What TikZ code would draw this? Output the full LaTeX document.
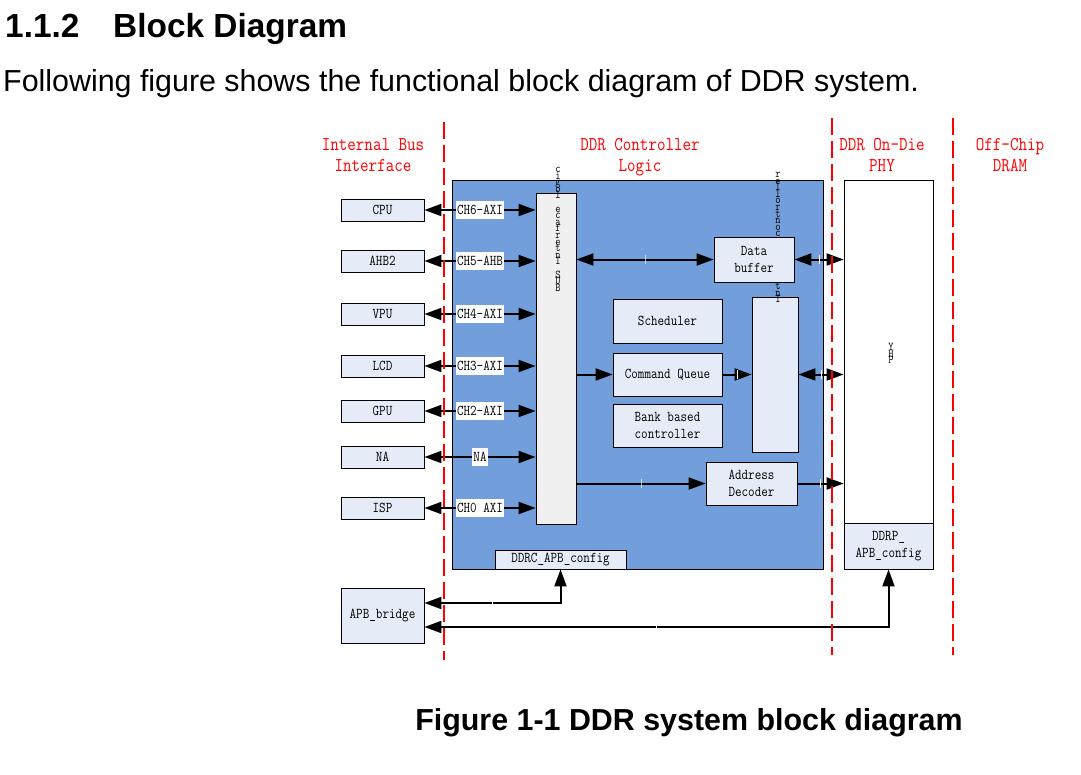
\documentclass[tikz,border=0pt]{standalone}
\usepackage{fontspec}
\setmainfont{Liberation Sans}
\newfontfamily\dgm[FakeStretch=0.85]{Latin Modern Mono}
\usetikzlibrary{arrows.meta}

\definecolor{ctlblue}{RGB}{114,159,219}
\definecolor{boxblue}{RGB}{230,236,247}
\definecolor{arbgray}{RGB}{240,240,240}
\newcommand{\tightrows}{\lineskiplimit=-100pt\relax}

\begin{document}
\begin{tikzpicture}[x=1pt, y=-1pt,
  every node/.style={font=\dgm\fontsize{15}{17}\selectfont},
  bx/.style={draw, fill=boxblue, line width=0.8pt, inner sep=1pt, align=center},
  hd/.style={text=red, align=center, anchor=north, inner sep=0pt, font=\dgm\fontsize{19.5}{21}\selectfont},
  vt/.style={align=center, anchor=north, inner sep=0pt, font={\dgm\fontsize{12}{6.6}\selectfont\tightrows}},
  lb/.style={fill=white, inner sep=1pt, minimum height=18pt},
  tk/.style={draw=white, line width=1pt, inner sep=0pt, minimum width=0pt, minimum height=9pt},
  dl/.style={red, line width=2pt, dash pattern=on 17pt off 6pt},
  ar/.style={-{Triangle[length=17pt,width=12pt]}, line width=2pt},
  dar/.style={{Triangle[length=17pt,width=12pt]}-{Triangle[length=17pt,width=12pt]}, line width=2pt}]

\useasboundingbox (0,0) rectangle (1081,774);

% ---------------- heading and caption ----------------
\node[anchor=base west, inner sep=0pt, font=\fontsize{33.4}{40}\selectfont\bfseries] (num) at (5,37) {1.1.2};
\node[anchor=base west, inner sep=0pt, font=\fontsize{33.4}{40}\selectfont\bfseries] (ttl) at (113,37) {Block Diagram};
\node[anchor=base west, inner sep=0pt, font=\fontsize{30.4}{36}\selectfont] (txt) at (3,91) {Following figure shows the functional block diagram of DDR system.};
\node[anchor=base, inner sep=0pt, font=\fontsize{30.4}{36}\selectfont\bfseries] (cap) at (689,730) {Figure 1-1 DDR system block diagram};

% ---------------- controller ----------------
\node[draw, fill=ctlblue, line width=0.8pt, minimum width=371pt, minimum height=389pt] (ctl) at (637.5,374.5) {};
\node[bx, minimum width=131pt, minimum height=19pt] (ddrc) at (560.5,559.5) {DDRC\_APB\_config};
\node[bx, fill=arbgray, minimum width=40pt, minimum height=331pt] (arb) at (556,358.5) {};
\node[vt] (vt1) at (558,167) {c\\i\\g\\o\\l\\ \\e\\c\\a\\f\\r\\e\\t\\n\\I\\ \\S\\U\\B};
\node[bx, minimum width=46pt, minimum height=155pt] (pc) at (775,374.5) {};
\node[vt] (vt2) at (778,172) {r\\e\\l\\l\\o\\r\\t\\n\\o\\c\\ \\e\\c\\a\\f\\r\\e\\t\\n\\I};
\node[bx, minimum width=80pt, minimum height=45pt] (dbuf) at (754,259.5) {Data\\buffer};
\node[bx, minimum width=109pt, minimum height=44pt] (sch) at (667.5,321) {Scheduler};
\node[bx, minimum width=109pt, minimum height=43pt] (cq) at (667.5,374.5) {Command Queue};
\node[bx, minimum width=109pt, minimum height=43pt] (bank) at (667.5,425.5) {Bank based\\controller};
\node[bx, minimum width=91pt, minimum height=43pt] (adec) at (751.5,483.5) {Address\\Decoder};

% ---------------- PHY ----------------
\node[draw, fill=white, line width=0.8pt, minimum width=89pt, minimum height=389pt] (phy) at (888.5,374.5) {};
\node[bx, minimum width=89pt, minimum height=46pt] (ddrp) at (888.5,546) {DDRP\_\\APB\_config};
\node[vt] (vt3) at (891,343) {Y\\H\\P};

% ---------------- bus masters ----------------
\foreach \i/\t/\y/\c in {6/CPU/210/CH6-AXI, 5/AHB2/261/CH5-AHB, 4/VPU/314/CH4-AXI, 3/LCD/366/CH3-AXI,
                         2/GPU/411/CH2-AXI, 1/NA/457/NA, 0/ISP/508/CH0 AXI}{
  \node[bx, minimum width=83pt, minimum height=22pt] (m\i) at (382.5,\y) {\t};
  \draw[dar] (m\i.east) -- node[lb] (l\i) {\c} (m\i.east -| arb.west);
}
\node[bx, minimum width=83pt, minimum height=55pt] (apb) at (382.5,615.5) {APB\_bridge};

% ---------------- data paths ----------------
\draw[dar] (arb.east |- dbuf) -- node[tk] (k1) {} (dbuf.west);
\draw[dar] (dbuf.east) -- node[tk] (k2) {} (dbuf.east -| phy.west);
\draw[ar] (arb.east |- cq) -- (cq.west);
\draw[ar] (cq.east) -- node[tk] (k3) {} (cq.east -| pc.west);
\draw[dar] (pc.east |- cq) -- node[tk] (k4) {} (cq -| phy.west);
\draw[ar] (arb.east |- adec) -- node[tk] (k5) {} (adec.west);
\draw[ar] (adec.east) -- node[tk] (k6) {} (adec -| phy.west);

% ---------------- APB config ----------------
\draw[dar] ([yshift=12.5pt]apb.east) -| node[tk, pos=.25] (k7) {} (ddrc.south);
\draw[dar] ([yshift=-11.5pt]apb.east) -| node[tk, pos=.25] (k8) {} (ddrp.south);

% ---------------- domain borders ----------------
\draw[dl] (444,122) -- (444,660);
\draw[dl] (832,118) -- (832,655);
\draw[dl] (953,118) -- (953,655);

\node[hd] (h1) at (373,138) {Internal Bus\\Interface};
\node[hd] (h2) at (640,138) {DDR Controller\\Logic};
\node[hd] (h3) at (882,138) {DDR On-Die\\PHY};
\node[hd] (h4) at (1010,138) {Off-Chip\\DRAM};
\end{tikzpicture}
\end{document}
